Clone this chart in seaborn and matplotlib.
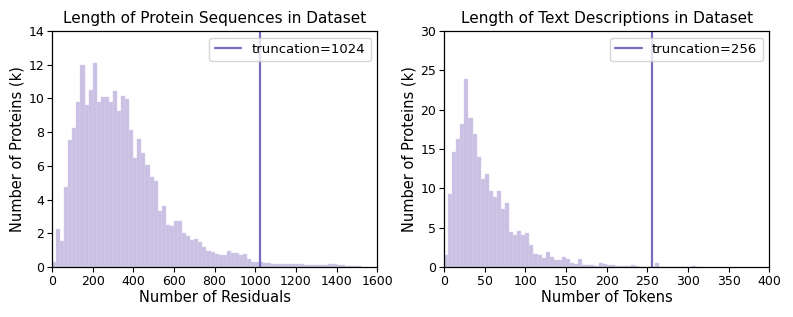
import numpy as np
import pandas as pd
import matplotlib
matplotlib.use("Agg")
import matplotlib.pyplot as plt
import seaborn as sns

# histogram bin heights (thousands of proteins)
residual_bin_width = 20
residual_counts = [
    0.30, 2.23, 1.52, 4.75, 7.53, 8.24, 9.76, 11.97, 9.64, 10.50,
    12.10, 9.78, 10.10, 10.06, 9.80, 10.43, 9.27, 10.14, 9.94, 8.13,
    6.49, 7.60, 6.75, 6.06, 5.36, 5.09, 3.31, 3.63, 2.47, 2.41,
    2.72, 2.72, 2.03, 1.81, 1.62, 1.66, 1.46, 1.17, 0.97, 0.87,
    0.76, 0.70, 0.73, 0.93, 0.84, 0.80, 0.68, 0.76, 0.49, 0.32,
    0.30, 0.28, 0.26, 0.24, 0.20, 0.18, 0.18, 0.20, 0.18, 0.18,
    0.16, 0.16, 0.12, 0.10, 0.10, 0.10, 0.12, 0.12, 0.18, 0.16,
    0.14, 0.12, 0.06, 0.08, 0.08, 0.06,
]

token_bin_width = 5
token_counts = [
    1.57, 9.32, 14.58, 16.30, 18.20, 23.86, 19.00, 16.90, 14.00, 11.20,
    11.80, 9.70, 8.90, 9.60, 7.40, 8.10, 4.40, 4.10, 4.60, 4.00,
    4.30, 2.84, 1.70, 1.48, 1.19, 1.86, 1.23, 0.89, 0.87, 1.23,
    0.97, 0.52, 0.38, 0.95, 0.30, 0.20, 0.20, 0.17, 0.55, 0.38,
    0.20, 0.25, 0.17, 0.10, 0.10, 0.10, 0.30, 0.13, 0.05, 0.05,
    0.03, 0.03, 0.55, 0.05, 0.03, 0.03, 0.02, 0.02, 0.02, 0.02,
    0.02, 0.08, 0.02,
]

residual_truncation = 1024
token_truncation = 256

bar_color = "#c9c0e3"
line_color = "#7a6bbf"

sns.set_style("ticks")
plt.rcParams["font.family"] = ["DejaVu Sans"]
plt.rcParams["text.color"] = "black"
plt.rcParams["axes.labelcolor"] = "black"
plt.rcParams["xtick.color"] = "black"
plt.rcParams["ytick.color"] = "black"

fig = plt.figure(figsize=(7.93, 3.17), dpi=100)
ax1 = fig.add_axes([0.0656, 0.158, 0.41, 0.744])
ax2 = fig.add_axes([0.560, 0.158, 0.41, 0.744])


def draw_hist(ax, counts, width, trunc, xmax, ymax, xstep, ystep, title, xlabel):
    edges = np.arange(len(counts) + 1) * width
    df = pd.DataFrame({"x": edges[:-1] + width / 2, "w": counts})
    sns.histplot(data=df, x="x", weights="w", bins=list(edges), ax=ax,
                 color=bar_color, alpha=1.0, edgecolor="#d8d2ec", linewidth=0.3)
    ax.axvline(trunc, color=line_color, linewidth=1.6,
               label=f"truncation={trunc}")
    ax.set_xlim(0, xmax)
    ax.set_ylim(0, ymax)
    ax.set_xticks(np.arange(0, xmax + 1, xstep))
    ax.set_yticks(np.arange(0, ymax + 1, ystep))
    ax.set_title(title, fontsize=11, color="black")
    ax.set_xlabel(xlabel, fontsize=10.5, labelpad=2)
    ax.set_ylabel("Number of Proteins (k)", fontsize=10.5, labelpad=3)
    ax.tick_params(labelsize=9, length=3.5, color="black", labelcolor="black", pad=2)
    for s in ax.spines.values():
        s.set_color("black")
        s.set_linewidth(0.9)
    leg = ax.legend(loc="upper right", fontsize=9.5, handlelength=2.0)
    for t in leg.get_texts():
        t.set_color("black")


draw_hist(ax1, residual_counts, residual_bin_width, residual_truncation,
          1600, 14, 200, 2, "Length of Protein Sequences in Dataset",
          "Number of Residuals")
draw_hist(ax2, token_counts, token_bin_width, token_truncation,
          400, 30, 50, 5, "Length of Text Descriptions in Dataset",
          "Number of Tokens")

fig.savefig("out.png", dpi=100)
